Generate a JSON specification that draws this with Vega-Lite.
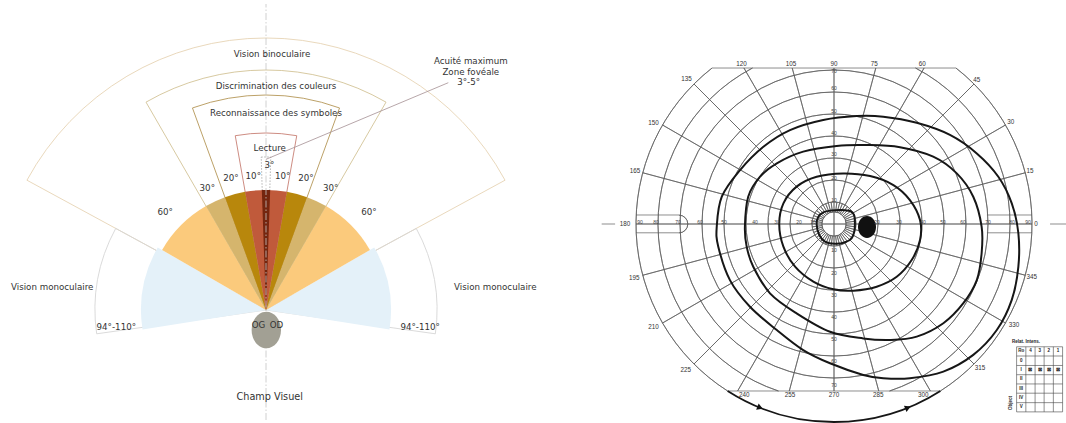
{
  "$schema": "https://vega.github.io/schema/vega-lite/v6.json",
  "background": "white",
  "padding": 0,
  "spacing": 0,
  "config": {"view": {"stroke": null}, "axis": {"disable": true}},
  "hconcat": [
    {
      "width": 590,
      "height": 423,
      "encoding": {
        "x": {"field": "x", "type": "quantitative", "scale": {"domain": [-266, 324], "nice": false, "zero": false}},
        "y": {"field": "y", "type": "quantitative", "scale": {"domain": [-113, 310], "nice": false, "zero": false}}
      },
      "layer": [
        {
          "data": {"values": [
            {"zone": "bino", "x": 0, "y": 0, "a0": -61.5, "a1": 61.5, "r": 272},
            {"zone": "coul", "x": 0, "y": 0, "a0": -30, "a1": 30, "r": 240},
            {"zone": "symb", "x": 0, "y": 0, "a0": -20, "a1": 20, "r": 215},
            {"zone": "lect", "x": 0, "y": 0, "a0": -10, "a1": 10, "r": 177},
            {"zone": "mono", "x": 0, "y": 0, "a0": -98, "a1": -61.5, "r": 171},
            {"zone": "mono", "x": 0, "y": 0, "a0": 61.5, "a1": 98, "r": 171}
          ]},
          "mark": {"type": "arc", "filled": false, "strokeWidth": 0.9},
          "encoding": {
            "theta": {"field": "a0", "type": "quantitative", "stack": null, "scale": {"domain": [-180, 180], "range": [-3.14159265, 3.14159265]}},
            "theta2": {"field": "a1"},
            "radius": {"field": "r", "type": "quantitative", "scale": {"type": "linear", "domain": [0, 300], "range": [0, 300]}},
            "radius2": {"datum": 0},
            "stroke": {"field": "zone", "type": "nominal", "legend": null, "scale": {"domain": ["bino", "coul", "symb", "lect", "mono"], "range": ["#e6d4b4", "#d3c396", "#b49657", "#c77f74", "#d6d6d6"]}}
          }
        },
        {
          "data": {"values": [{"x": 0, "y": 0, "a0": -1.8, "a1": 1.8, "r": 153}]},
          "mark": {"type": "arc", "filled": false, "stroke": "#a0a0a0", "strokeWidth": 0.8, "strokeDash": [1.5, 1.5]},
          "encoding": {
            "theta": {"field": "a0", "type": "quantitative", "stack": null},
            "theta2": {"field": "a1"},
            "radius": {"field": "r", "type": "quantitative"},
            "radius2": {"datum": 0}
          }
        },
        {
          "data": {"values": [
            {"zone": "mono", "x": 0, "y": 0, "a0": -99, "a1": -60, "r": 125},
            {"zone": "mono", "x": 0, "y": 0, "a0": 60, "a1": 99, "r": 125},
            {"zone": "z60", "x": 0, "y": 0, "a0": -60, "a1": -30, "r": 120},
            {"zone": "z60", "x": 0, "y": 0, "a0": 30, "a1": 60, "r": 120},
            {"zone": "z30", "x": 0, "y": 0, "a0": -30, "a1": -20, "r": 120},
            {"zone": "z30", "x": 0, "y": 0, "a0": 20, "a1": 30, "r": 120},
            {"zone": "z20", "x": 0, "y": 0, "a0": -20, "a1": -10, "r": 120},
            {"zone": "z20", "x": 0, "y": 0, "a0": 10, "a1": 20, "r": 120},
            {"zone": "z10", "x": 0, "y": 0, "a0": -10, "a1": 10, "r": 120},
            {"zone": "z3", "x": 0, "y": 0, "a0": -2, "a1": 2, "r": 120}
          ]},
          "mark": {"type": "arc"},
          "encoding": {
            "theta": {"field": "a0", "type": "quantitative", "stack": null},
            "theta2": {"field": "a1"},
            "radius": {"field": "r", "type": "quantitative"},
            "radius2": {"datum": 0},
            "fill": {"field": "zone", "type": "nominal", "legend": null, "scale": {"domain": ["mono", "z60", "z30", "z20", "z10", "z3"], "range": ["#e4f1f9", "#fbca7c", "#d5b56d", "#b8870c", "#c05a3b", "#74260f"]}}
          }
        },
        {
          "data": {"values": [{"x": 0, "y": -110, "x2": 0, "y2": 306}]},
          "mark": {"type": "rule", "stroke": "#c4c4c4", "strokeWidth": 0.8, "strokeDash": [7, 2, 1.5, 2]},
          "encoding": {"x2": {"field": "x2"}, "y2": {"field": "y2"}}
        },
        {
          "data": {"values": [{"x": 0, "y": 150.7, "x2": 182.3, "y2": 227.3}]},
          "mark": {"type": "rule", "stroke": "#a58f93", "strokeWidth": 0.8},
          "encoding": {"x2": {"field": "x2"}, "y2": {"field": "y2"}}
        },
        {
          "data": {"values": [{"x": 0.3, "y": -20}]},
          "mark": {"type": "point", "shape": "M -1 0 A 1 1.245 0 1 0 1 0 A 1 1.245 0 1 0 -1 0 Z", "size": 864, "filled": true, "fill": "#a2a094", "opacity": 1, "strokeWidth": 0}
        },
        {
          "data": {"values": [
            {"x": 6, "y": 256, "t": "Vision binoculaire"},
            {"x": 10, "y": 224, "t": "Discrimination des couleurs"},
            {"x": 10, "y": 196.7, "t": "Reconnaissance des symboles"},
            {"x": 3.7, "y": 161.7, "t": "Lecture"},
            {"x": 3.5, "y": 145, "t": "3°"},
            {"x": -12.7, "y": 134, "t": "10°"},
            {"x": 16.7, "y": 134, "t": "10°"},
            {"x": -35, "y": 132.3, "t": "20°"},
            {"x": 40, "y": 132.3, "t": "20°"},
            {"x": -58.7, "y": 121.7, "t": "30°"},
            {"x": 64.7, "y": 121.7, "t": "30°"},
            {"x": -100.8, "y": 98, "t": "60°"},
            {"x": 103, "y": 98, "t": "60°"},
            {"x": -213.8, "y": 22.7, "t": "Vision monoculaire"},
            {"x": 229.3, "y": 22.7, "t": "Vision monoculaire"},
            {"x": -149.7, "y": -16.7, "t": "94°-110°"},
            {"x": 154.2, "y": -16.7, "t": "94°-110°"},
            {"x": -7.5, "y": -15, "t": "OG"},
            {"x": 10.4, "y": -15, "t": "OD"},
            {"x": 204.8, "y": 248.7, "t": "Acuité maximum"},
            {"x": 204.8, "y": 238.3, "t": "Zone fovéale"},
            {"x": 202.6, "y": 228, "t": "3°-5°"}
          ]},
          "mark": {"type": "text", "font": "DejaVu Sans", "fontSize": 8.7, "fill": "#333333", "align": "center", "baseline": "middle"},
          "encoding": {"text": {"field": "t"}}
        },
        {
          "data": {"values": [{"x": 3.7, "y": -87.3, "t": "Champ Visuel"}]},
          "mark": {"type": "text", "font": "DejaVu Sans", "fontSize": 9.7, "fill": "#333333", "align": "center", "baseline": "middle"},
          "encoding": {"text": {"field": "t"}}
        }
      ]
    },
    {
      "width": 476,
      "height": 423,
      "encoding": {
        "x": {"field": "x", "type": "quantitative", "scale": {"domain": [-110.91, 105.45], "nice": false, "zero": false}},
        "y": {"field": "y", "type": "quantitative", "scale": {"domain": [-90.45, 101.82], "nice": false, "zero": false}}
      },
      "layer": [
        {
          "data": {"values": [
            {"x": 0, "y": 0, "a0": 0, "a1": 360, "r": 5.5},
            {"x": 0, "y": 0, "a0": 0, "a1": 360, "r": 10},
            {"x": 0, "y": 0, "a0": 0, "a1": 360, "r": 20},
            {"x": 0, "y": 0, "a0": 0, "a1": 360, "r": 30},
            {"x": 0, "y": 0, "a0": 0, "a1": 360, "r": 40},
            {"x": 0, "y": 0, "a0": 0, "a1": 360, "r": 50},
            {"x": 0, "y": 0, "a0": 0, "a1": 360, "r": 60},
            {"x": 0, "y": 0, "a0": 0, "a1": 360, "r": 70},
            {"x": 0, "y": 0, "a0": -71.6, "a1": 62.4, "r": 80},
            {"x": 0, "y": 0, "a0": 117.6, "a1": 251.6, "r": 80},
            {"x": 0, "y": 0, "a0": -57.5, "a1": 52, "r": 90},
            {"x": 0, "y": 0, "a0": 128, "a1": 237.5, "r": 90},
            {"x": -70.5, "y": 0, "a0": 90, "a1": -90, "r": 4.05}
          ]},
          "mark": {"type": "arc", "filled": false, "stroke": "#5c5c5c", "strokeWidth": 0.7},
          "encoding": {
            "theta": {"field": "a0", "type": "quantitative", "stack": null, "scale": {"domain": [0, 360], "range": [1.5707963, -4.712389]}},
            "theta2": {"field": "a1"},
            "radius": {"field": "r", "type": "quantitative", "scale": {"type": "linear", "domain": [0, 100], "range": [0, 220]}},
            "radius2": {"field": "r"}
          }
        },
        {
          "data": {"values": [
            {"x": 0, "y": 0, "a": 0, "r0": 0, "r1": 90}, {"x": 0, "y": 0, "a": 15, "r0": 5.5, "r1": 90}, {"x": 0, "y": 0, "a": 30, "r0": 5.5, "r1": 90},
            {"x": 0, "y": 0, "a": 45, "r0": 5.5, "r1": 90}, {"x": 0, "y": 0, "a": 60, "r0": 5.5, "r1": 81.9}, {"x": 0, "y": 0, "a": 75, "r0": 5.5, "r1": 73.4},
            {"x": 0, "y": 0, "a": 90, "r0": 0, "r1": 70.9}, {"x": 0, "y": 0, "a": 105, "r0": 5.5, "r1": 73.4}, {"x": 0, "y": 0, "a": 120, "r0": 5.5, "r1": 81.9},
            {"x": 0, "y": 0, "a": 135, "r0": 5.5, "r1": 90}, {"x": 0, "y": 0, "a": 150, "r0": 5.5, "r1": 90}, {"x": 0, "y": 0, "a": 165, "r0": 5.5, "r1": 90},
            {"x": 0, "y": 0, "a": 180, "r0": 0, "r1": 90}, {"x": 0, "y": 0, "a": 195, "r0": 5.5, "r1": 90}, {"x": 0, "y": 0, "a": 210, "r0": 5.5, "r1": 90},
            {"x": 0, "y": 0, "a": 225, "r0": 5.5, "r1": 90}, {"x": 0, "y": 0, "a": 240, "r0": 5.5, "r1": 87.6}, {"x": 0, "y": 0, "a": 255, "r0": 5.5, "r1": 78.6},
            {"x": 0, "y": 0, "a": 270, "r0": 0, "r1": 75.9}, {"x": 0, "y": 0, "a": 285, "r0": 5.5, "r1": 78.6}, {"x": 0, "y": 0, "a": 300, "r0": 5.5, "r1": 87.6},
            {"x": 0, "y": 0, "a": 315, "r0": 5.5, "r1": 90}, {"x": 0, "y": 0, "a": 330, "r0": 5.5, "r1": 90}, {"x": 0, "y": 0, "a": 345, "r0": 5.5, "r1": 90},
            {"x": 0, "y": 0, "a": 7.5, "r0": 5.5, "r1": 10}, {"x": 0, "y": 0, "a": 22.5, "r0": 5.5, "r1": 10}, {"x": 0, "y": 0, "a": 37.5, "r0": 5.5, "r1": 10},
            {"x": 0, "y": 0, "a": 52.5, "r0": 5.5, "r1": 10}, {"x": 0, "y": 0, "a": 67.5, "r0": 5.5, "r1": 10}, {"x": 0, "y": 0, "a": 82.5, "r0": 5.5, "r1": 10},
            {"x": 0, "y": 0, "a": 97.5, "r0": 5.5, "r1": 10}, {"x": 0, "y": 0, "a": 112.5, "r0": 5.5, "r1": 10}, {"x": 0, "y": 0, "a": 127.5, "r0": 5.5, "r1": 10},
            {"x": 0, "y": 0, "a": 142.5, "r0": 5.5, "r1": 10}, {"x": 0, "y": 0, "a": 157.5, "r0": 5.5, "r1": 10}, {"x": 0, "y": 0, "a": 172.5, "r0": 5.5, "r1": 10},
            {"x": 0, "y": 0, "a": 187.5, "r0": 5.5, "r1": 10}, {"x": 0, "y": 0, "a": 202.5, "r0": 5.5, "r1": 10}, {"x": 0, "y": 0, "a": 217.5, "r0": 5.5, "r1": 10},
            {"x": 0, "y": 0, "a": 232.5, "r0": 5.5, "r1": 10}, {"x": 0, "y": 0, "a": 247.5, "r0": 5.5, "r1": 10}, {"x": 0, "y": 0, "a": 262.5, "r0": 5.5, "r1": 10},
            {"x": 0, "y": 0, "a": 277.5, "r0": 5.5, "r1": 10}, {"x": 0, "y": 0, "a": 292.5, "r0": 5.5, "r1": 10}, {"x": 0, "y": 0, "a": 307.5, "r0": 5.5, "r1": 10},
            {"x": 0, "y": 0, "a": 322.5, "r0": 5.5, "r1": 10}, {"x": 0, "y": 0, "a": 337.5, "r0": 5.5, "r1": 10}, {"x": 0, "y": 0, "a": 352.5, "r0": 5.5, "r1": 10}
          ]},
          "mark": {"type": "arc", "filled": false, "stroke": "#5c5c5c", "strokeWidth": 0.7},
          "encoding": {
            "theta": {"field": "a", "type": "quantitative", "stack": null},
            "theta2": {"field": "a"},
            "radius": {"field": "r1", "type": "quantitative"},
            "radius2": {"field": "r0"}
          }
        },
        {
          "data": {"values": [
            {"x": -55.4, "y": 70.9, "x2": 55.4, "y2": 70.9},
            {"x": -48.4, "y": -75.9, "x2": 48.4, "y2": -75.9},
            {"x": -105.6, "y": 0, "x2": -99.5, "y2": 0},
            {"x": 98.2, "y": 0, "x2": 105.5, "y2": 0},
            {"x": -90, "y": 4.1, "x2": -70.5, "y2": 4.1},
            {"x": -90, "y": -4.0, "x2": -70.5, "y2": -4.0},
            {"x": 69.5, "y": 4.1, "x2": 90, "y2": 4.1},
            {"x": 69.5, "y": -4.0, "x2": 90, "y2": -4.0}
          ]},
          "mark": {"type": "rule", "stroke": "#5c5c5c", "strokeWidth": 0.7},
          "encoding": {"x2": {"field": "x2"}, "y2": {"field": "y2"}}
        },
        {
          "data": {"values": [
            {"iso": "I4", "i": 0, "x": -42.7, "y": 24.5}, {"iso": "I4", "i": 1, "x": -32.1, "y": 35.1},
            {"iso": "I4", "i": 2, "x": -20, "y": 42.7}, {"iso": "I4", "i": 3, "x": -4.9, "y": 47.3},
            {"iso": "I4", "i": 4, "x": 10.3, "y": 49.1}, {"iso": "I4", "i": 5, "x": 22.4, "y": 48.8},
            {"iso": "I4", "i": 6, "x": 37.6, "y": 46}, {"iso": "I4", "i": 7, "x": 52.7, "y": 40.5},
            {"iso": "I4", "i": 8, "x": 64.9, "y": 32.1}, {"iso": "I4", "i": 9, "x": 74.7, "y": 21.5},
            {"iso": "I4", "i": 10, "x": 80.8, "y": 9.4}, {"iso": "I4", "i": 11, "x": 83.8, "y": -4.2},
            {"iso": "I4", "i": 12, "x": 83.8, "y": -19.4}, {"iso": "I4", "i": 13, "x": 80.8, "y": -34.5},
            {"iso": "I4", "i": 14, "x": 74, "y": -48.2}, {"iso": "I4", "i": 15, "x": 63.3, "y": -59.5},
            {"iso": "I4", "i": 16, "x": 49.7, "y": -67.1}, {"iso": "I4", "i": 17, "x": 34.5, "y": -70.1},
            {"iso": "I4", "i": 18, "x": 22.4, "y": -70.1}, {"iso": "I4", "i": 19, "x": 13.3, "y": -68.6},
            {"iso": "I4", "i": 20, "x": -1.8, "y": -63.3}, {"iso": "I4", "i": 21, "x": -14, "y": -57.3},
            {"iso": "I4", "i": 22, "x": -26, "y": -48.2}, {"iso": "I4", "i": 23, "x": -38.2, "y": -37.6},
            {"iso": "I4", "i": 24, "x": -47.3, "y": -25.5}, {"iso": "I4", "i": 25, "x": -52.6, "y": -10.3},
            {"iso": "I4", "i": 26, "x": -53.3, "y": -1.2}, {"iso": "I4", "i": 27, "x": -51, "y": 12.4},
            {"iso": "I3", "i": 0, "x": -40.5, "y": -1.2}, {"iso": "I3", "i": 1, "x": -39, "y": 12.4},
            {"iso": "I3", "i": 2, "x": -33.6, "y": 21.5}, {"iso": "I3", "i": 3, "x": -26, "y": 27.6},
            {"iso": "I3", "i": 4, "x": -14, "y": 32.9}, {"iso": "I3", "i": 5, "x": 1.2, "y": 35.5},
            {"iso": "I3", "i": 6, "x": 14.9, "y": 35.9}, {"iso": "I3", "i": 7, "x": 30, "y": 34.9},
            {"iso": "I3", "i": 8, "x": 45.1, "y": 30.6}, {"iso": "I3", "i": 9, "x": 55.8, "y": 23},
            {"iso": "I3", "i": 10, "x": 63.3, "y": 12.4}, {"iso": "I3", "i": 11, "x": 67.1, "y": -1.2},
            {"iso": "I3", "i": 12, "x": 67.1, "y": -13.3}, {"iso": "I3", "i": 13, "x": 64.9, "y": -25.5},
            {"iso": "I3", "i": 14, "x": 58.8, "y": -36}, {"iso": "I3", "i": 15, "x": 49.7, "y": -45.1},
            {"iso": "I3", "i": 16, "x": 37.6, "y": -51.2}, {"iso": "I3", "i": 17, "x": 25.5, "y": -52.7},
            {"iso": "I3", "i": 18, "x": 13.3, "y": -52}, {"iso": "I3", "i": 19, "x": -1.8, "y": -49},
            {"iso": "I3", "i": 20, "x": -17, "y": -40.6}, {"iso": "I3", "i": 21, "x": -29.1, "y": -31.5},
            {"iso": "I3", "i": 22, "x": -36.7, "y": -19.4}, {"iso": "I3", "i": 23, "x": -39.7, "y": -10.3},
            {"iso": "I2", "i": 0, "x": -24.9, "y": 0}, {"iso": "I2", "i": 1, "x": -23, "y": 9.4},
            {"iso": "I2", "i": 2, "x": -17, "y": 17}, {"iso": "I2", "i": 3, "x": -7.9, "y": 21.5},
            {"iso": "I2", "i": 4, "x": 4.2, "y": 23}, {"iso": "I2", "i": 5, "x": 16.4, "y": 21.8},
            {"iso": "I2", "i": 6, "x": 27, "y": 17.7}, {"iso": "I2", "i": 7, "x": 34.5, "y": 10.9},
            {"iso": "I2", "i": 8, "x": 39.1, "y": 1.8}, {"iso": "I2", "i": 9, "x": 39.1, "y": -7.3},
            {"iso": "I2", "i": 10, "x": 35.3, "y": -16.4}, {"iso": "I2", "i": 11, "x": 28.5, "y": -24},
            {"iso": "I2", "i": 12, "x": 19.4, "y": -28.5}, {"iso": "I2", "i": 13, "x": 8.8, "y": -30.3},
            {"iso": "I2", "i": 14, "x": -0.3, "y": -29.7}, {"iso": "I2", "i": 15, "x": -9.4, "y": -26.2},
            {"iso": "I2", "i": 16, "x": -17.7, "y": -19.4}, {"iso": "I2", "i": 17, "x": -23, "y": -10.3},
            {"iso": "I1", "i": 0, "x": -7.9, "y": -0.1}, {"iso": "I1", "i": 1, "x": -7.1, "y": 3.3},
            {"iso": "I1", "i": 2, "x": -4.9, "y": 5.3}, {"iso": "I1", "i": 3, "x": -1, "y": 6.2},
            {"iso": "I1", "i": 4, "x": 3.5, "y": 6.4}, {"iso": "I1", "i": 5, "x": 7.3, "y": 5.9},
            {"iso": "I1", "i": 6, "x": 9.1, "y": 4.1}, {"iso": "I1", "i": 7, "x": 9.5, "y": 0.3},
            {"iso": "I1", "i": 8, "x": 9.2, "y": -3.5}, {"iso": "I1", "i": 9, "x": 8, "y": -6.5},
            {"iso": "I1", "i": 10, "x": 5, "y": -8.3}, {"iso": "I1", "i": 11, "x": 0.5, "y": -9},
            {"iso": "I1", "i": 12, "x": -4.1, "y": -8}, {"iso": "I1", "i": 13, "x": -6.7, "y": -5}
          ]},
          "mark": {"type": "line", "interpolate": "cardinal-closed", "stroke": "#161616", "strokeWidth": 2},
          "encoding": {
            "detail": {"field": "iso", "type": "nominal"},
            "order": {"field": "i", "type": "quantitative"}
          }
        },
        {
          "data": {"values": [{"x": 0, "y": 0, "a0": 237.5, "a1": 302.5, "r": 90}]},
          "mark": {"type": "arc", "filled": false, "stroke": "#161616", "strokeWidth": 1.8},
          "encoding": {
            "theta": {"field": "a0", "type": "quantitative", "stack": null},
            "theta2": {"field": "a1"},
            "radius": {"field": "r", "type": "quantitative"},
            "radius2": {"field": "r"}
          }
        },
        {
          "data": {"values": [{"x": 15, "y": -1.4}]},
          "mark": {"type": "point", "shape": "M -1 0 A 1 1.22 0 1 0 1 0 A 1 1.22 0 1 0 -1 0 Z", "size": 324, "filled": true, "fill": "#111111", "opacity": 1, "strokeWidth": 0}
        },
        {
          "data": {"values": [{"x": -33.6, "y": -83.5}]},
          "mark": {"type": "point", "shape": "triangle-right", "size": 45, "filled": true, "fill": "#111111", "opacity": 1, "angle": 22}
        },
        {
          "data": {"values": [{"x": 33.6, "y": -83.5}]},
          "mark": {"type": "point", "shape": "triangle-right", "size": 45, "filled": true, "fill": "#111111", "opacity": 1, "angle": -22}
        },
        {
          "data": {"values": [
            {"x": 83.0, "y": -55.8, "x2": 83.0, "y2": -85.4},
            {"x": 87.2, "y": -55.8, "x2": 87.2, "y2": -85.4},
            {"x": 91.4, "y": -55.8, "x2": 91.4, "y2": -85.4},
            {"x": 95.5, "y": -55.8, "x2": 95.5, "y2": -85.4},
            {"x": 99.7, "y": -55.8, "x2": 99.7, "y2": -85.4},
            {"x": 103.9, "y": -55.8, "x2": 103.9, "y2": -85.4},
            {"x": 83.0, "y": -55.8, "x2": 103.9, "y2": -55.8},
            {"x": 83.0, "y": -60.0, "x2": 103.9, "y2": -60.0},
            {"x": 83.0, "y": -64.3, "x2": 103.9, "y2": -64.3},
            {"x": 83.0, "y": -68.5, "x2": 103.9, "y2": -68.5},
            {"x": 83.0, "y": -72.7, "x2": 103.9, "y2": -72.7},
            {"x": 83.0, "y": -76.9, "x2": 103.9, "y2": -76.9},
            {"x": 83.0, "y": -81.2, "x2": 103.9, "y2": -81.2},
            {"x": 83.0, "y": -85.4, "x2": 103.9, "y2": -85.4}
          ]},
          "mark": {"type": "rule", "stroke": "#444444", "strokeWidth": 0.6},
          "encoding": {"x2": {"field": "x2"}, "y2": {"field": "y2"}}
        },
        {
          "data": {"values": [
            {"x": 91.8, "y": 0, "t": "0"}, {"x": 89.1, "y": 24.1, "t": "15"}, {"x": 80.3, "y": 46.5, "t": "30"},
            {"x": 64.9, "y": 65.5, "t": "45"}, {"x": 40.1, "y": 72.7, "t": "60"}, {"x": 18.3, "y": 72.7, "t": "75"},
            {"x": 0, "y": 72.7, "t": "90"}, {"x": -19.5, "y": 72.7, "t": "105"}, {"x": -42, "y": 72.7, "t": "120"},
            {"x": -67, "y": 65.8, "t": "135"}, {"x": -82.1, "y": 46, "t": "150"}, {"x": -90.5, "y": 24.1, "t": "165"},
            {"x": -95, "y": 0, "t": "180"}, {"x": -90.8, "y": -24.4, "t": "195"}, {"x": -82.1, "y": -47, "t": "210"},
            {"x": -67.4, "y": -66.4, "t": "225"}, {"x": -40.8, "y": -77.7, "t": "240"}, {"x": -20, "y": -77.7, "t": "255"},
            {"x": 0, "y": -77.7, "t": "270"}, {"x": 20.1, "y": -77.7, "t": "285"}, {"x": 40.6, "y": -77.7, "t": "300"},
            {"x": 66.4, "y": -65.6, "t": "315"}, {"x": 81.8, "y": -45.9, "t": "330"}, {"x": 89.9, "y": -24.2, "t": "345"}
          ]},
          "mark": {"type": "text", "font": "Liberation Sans", "fontSize": 6.3, "fill": "#333333", "align": "center", "baseline": "middle"},
          "encoding": {"text": {"field": "t"}}
        },
        {
          "data": {"values": [
            {"x": -88.2, "y": 0.9, "t": "90"}, {"x": -80.9, "y": 0.9, "t": "80"}, {"x": -70.9, "y": 0.9, "t": "70"},
            {"x": -60.9, "y": 0.9, "t": "60"}, {"x": -50, "y": 0.9, "t": "50"}, {"x": -35.9, "y": 0.9, "t": "40"},
            {"x": -25.9, "y": 0.9, "t": "30"}, {"x": -15.9, "y": 0.9, "t": "20"}, {"x": -9.5, "y": 0.9, "t": "10"},
            {"x": 19.5, "y": 0.9, "t": "20"}, {"x": 29.5, "y": 0.9, "t": "30"}, {"x": 40.5, "y": 0.9, "t": "40"},
            {"x": 49.5, "y": 0.9, "t": "50"}, {"x": 58.6, "y": 0.9, "t": "60"}, {"x": 70, "y": 0.9, "t": "70"},
            {"x": 80.9, "y": 0.9, "t": "80"}, {"x": 88.2, "y": 0.9, "t": "90"},
            {"x": 0, "y": 69.5, "t": "70"}, {"x": 0, "y": 61.8, "t": "60"}, {"x": 0, "y": 51.4, "t": "50"},
            {"x": 0, "y": 41.4, "t": "40"}, {"x": 0, "y": 31.8, "t": "30"}, {"x": 0, "y": 20.9, "t": "20"},
            {"x": 0, "y": 10.9, "t": "10"},
            {"x": 0, "y": -11.8, "t": "10"}, {"x": 0, "y": -22.3, "t": "20"}, {"x": 0, "y": -32.3, "t": "30"},
            {"x": 0, "y": -42.3, "t": "40"}, {"x": 0, "y": -52.3, "t": "50"}, {"x": 0, "y": -62.3, "t": "60"},
            {"x": 0, "y": -73.2, "t": "70"}
          ]},
          "mark": {"type": "text", "font": "Liberation Sans", "fontSize": 5, "fill": "#444444", "align": "center", "baseline": "middle"},
          "encoding": {"text": {"field": "t"}}
        },
        {
          "data": {"values": [
            {"x": 87.3, "y": -53.6, "t": "Relat. Intens."},
            {"x": 85.1, "y": -57.9, "t": "Ro"}, {"x": 89.3, "y": -57.9, "t": "4"}, {"x": 93.5, "y": -57.9, "t": "3"},
            {"x": 97.6, "y": -57.9, "t": "2"}, {"x": 101.8, "y": -57.9, "t": "1"},
            {"x": 85.1, "y": -62.1, "t": "0"}, {"x": 85.1, "y": -66.4, "t": "I"}, {"x": 85.1, "y": -70.6, "t": "II"},
            {"x": 85.1, "y": -74.8, "t": "III"}, {"x": 85.1, "y": -79.0, "t": "IV"}, {"x": 85.1, "y": -83.3, "t": "V"},
            {"x": 89.3, "y": -66.4, "t": "⊠"}, {"x": 93.5, "y": -66.4, "t": "⊠"}, {"x": 97.6, "y": -66.4, "t": "⊠"},
            {"x": 101.8, "y": -66.4, "t": "⊠"}
          ]},
          "mark": {"type": "text", "font": "Liberation Sans", "fontSize": 4.5, "fontWeight": "bold", "fill": "#222222", "align": "center", "baseline": "middle"},
          "encoding": {"text": {"field": "t"}}
        },
        {
          "data": {"values": [{"x": 80.3, "y": -81.4, "t": "Object"}]},
          "mark": {"type": "text", "font": "Liberation Sans", "fontSize": 4.5, "fontWeight": "bold", "fill": "#222222", "align": "center", "baseline": "middle", "angle": 270},
          "encoding": {"text": {"field": "t"}}
        }
      ]
    }
  ]
}
